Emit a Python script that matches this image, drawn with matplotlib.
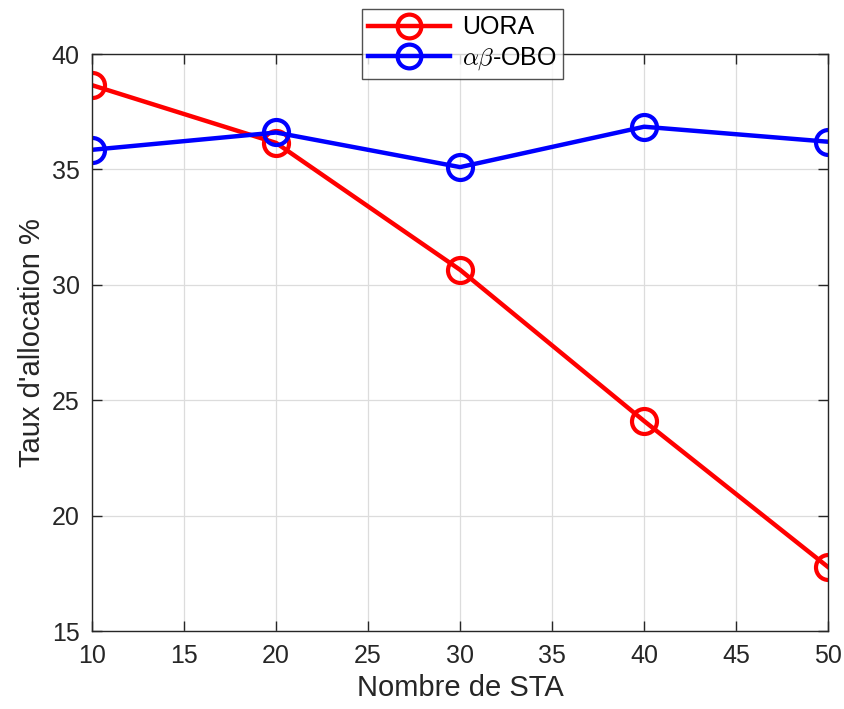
import matplotlib.pyplot as plt
import numpy as np

plt.rcParams['font.family'] = ['Liberation Sans', 'DejaVu Sans']
plt.rcParams['mathtext.fontset'] = 'cm'

nb_sta = [10, 20, 30, 40, 50]
uora = [38.65, 36.15, 30.65, 24.1, 17.77]
obo = [35.85, 36.6, 35.1, 36.85, 36.2]

fig = plt.figure(figsize=(8.45, 7.09), dpi=100)
ax = fig.add_axes([0.1089, 0.11, 0.8711, 0.8138])

ax.plot(nb_sta, uora, color='red', linewidth=3.2, marker='o', markersize=18,
        markerfacecolor='none', markeredgewidth=3, label='UORA')
ax.plot(nb_sta, obo, color='blue', linewidth=3.2, marker='o', markersize=18,
        markerfacecolor='none', markeredgewidth=3, label=r'$\alpha\beta$-OBO')

ax.set_xlim(10, 50)
ax.set_ylim(15, 40)
ax.set_xticks(np.arange(10, 51, 5))
ax.set_yticks(np.arange(15, 41, 5))
ax.grid(True, color='#dcdcdc', linewidth=0.9)
ax.set_axisbelow(True)
ax.tick_params(direction='in', top=True, right=True, labelsize=18,
               length=7, width=1, pad=9, colors='#262626', labelcolor='#262626')
for s in ax.spines.values():
    s.set_color('#262626')
    s.set_linewidth(1)

ax.set_xlabel('Nombre de STA', fontsize=21, color='#262626', labelpad=5)
ax.set_ylabel("Taux d'allocation %", fontsize=21, color='#262626', labelpad=4)

leg = fig.legend(loc='upper center', bbox_to_anchor=(0.547, 0.987), fontsize=18,
                 frameon=True, fancybox=False, edgecolor='#262626',
                 handlelength=3.3, borderpad=0.25, labelspacing=0.25,
                 handletextpad=0.45, borderaxespad=0, markerscale=0.95)
leg.get_frame().set_linewidth(1)

fig.savefig('out.png', dpi=100)
